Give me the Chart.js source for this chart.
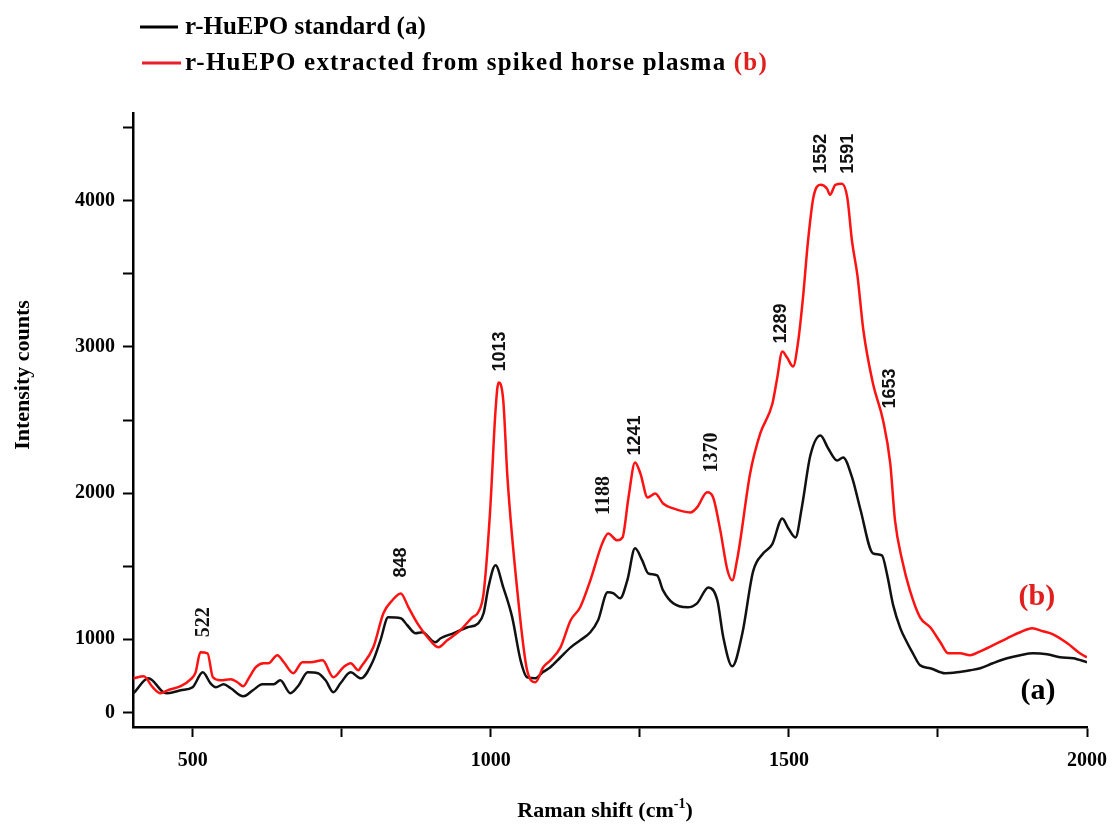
<!DOCTYPE html>
<html>
<head>
<meta charset="utf-8">
<script src="https://cdn.jsdelivr.net/npm/chart.js@4.4.0/dist/chart.umd.min.js"></script>
<style>
  html, body { margin: 0; padding: 0; background: #fff; }
  #wrap { width: 1120px; height: 827px; }
</style>
</head>
<body>
<div id="wrap"><canvas id="raman-chart" width="1120" height="827"></canvas></div>
<script>
// (a) r-HuEPO standard
var shiftA = [401,426,451,458,480,500,517,530,539,552,564,585,601,617,636,647,664,678,693,710,723,736,748,765,778,782,803,815,828,849,860,874,885,907,916,937,961,979,988,996,1008,1021,1036,1050,1061,1075,1087,1100,1117,1134,1150,1167,1180,1196,1206,1217,1229,1242,1254,1264,1279,1289,1306,1330,1346,1365,1380,1390,1405,1422,1440,1457,1472,1489,1499,1511,1522,1536,1553,1566,1581,1591,1606,1620,1641,1656,1665,1675,1687,1698,1708,1720,1737,1762,1782,1804,1821,1842,1866,1888,1910,1933,1955,1977,2000];
var intensityA = [631,733,638,631,651,672,774,699,672,692,665,610,651,692,692,720,631,686,774,768,720,638,699,774,740,733,856,993,1150,1144,1096,1041,1048,980,1007,1041,1082,1109,1178,1355,1506,1355,1150,856,740,733,774,809,877,945,993,1048,1130,1321,1314,1280,1403,1622,1540,1451,1437,1335,1246,1219,1246,1355,1267,1014,815,1041,1465,1588,1649,1827,1759,1697,1909,2257,2394,2305,2223,2244,2107,1888,1588,1574,1437,1232,1075,980,904,822,802,768,774,788,802,836,870,891,904,897,877,870,843];

// (b) r-HuEPO extracted from spiked horse plasma
var shiftB = [401,418,433,446,458,480,497,505,513,525,534,547,564,575,585,594,606,619,627,642,653,669,684,698,718,736,753,765,778,782,803,820,835,849,862,877,894,912,927,949,969,979,988,999,1008,1013,1021,1028,1045,1061,1075,1088,1100,1117,1134,1150,1167,1187,1197,1212,1221,1231,1242,1251,1263,1276,1289,1306,1335,1346,1363,1373,1385,1397,1405,1413,1418,1435,1452,1472,1480,1489,1497,1507,1516,1524,1532,1541,1553,1564,1569,1578,1589,1598,1606,1615,1625,1641,1658,1670,1678,1690,1703,1720,1737,1754,1767,1787,1804,1821,1842,1866,1888,1908,1926,1943,1967,1988,2000];
var intensityB = [733,747,672,631,651,679,727,774,911,904,740,720,727,706,679,733,809,836,836,891,843,768,843,843,856,740,809,836,788,809,945,1178,1267,1314,1219,1109,1014,945,993,1062,1150,1185,1314,1882,2565,2756,2633,2107,1314,788,706,809,856,945,1130,1219,1403,1656,1724,1677,1697,1970,2210,2134,1970,1998,1929,1895,1868,1902,2005,1970,1745,1472,1403,1540,1663,2134,2408,2606,2777,2968,2927,2866,3050,3351,3720,4021,4109,4082,4041,4109,4116,4021,3720,3488,3112,2750,2497,2203,1813,1540,1335,1150,1082,980,904,904,891,918,959,1007,1048,1075,1055,1034,973,904,877];

// axis ticks
var xTickValues = [500, 750, 1000, 1250, 1500, 1750, 2000];
var xTickLabels = ['500', '', '1000', '', '1500', '', '2000'];
var yTickValues = [500, 1000, 1500, 2000, 2500, 3000, 3500, 4000, 4500];
var yTickLabels = ['0', '1000', '', '2000', '', '3000', '', '4000', ''];

// peak labels
var peakText = ['522', '848', '1013', '1188', '1241', '1370', '1289', '1552', '1591', '1653'];

var SERIF = '"Liberation Serif", "Times New Roman", serif';
var SANS = '"Liberation Sans", Arial, sans-serif';

// where each peak label sits (data units) and which face it uses
var peakPlace = [
    { x: 518, y: 1116, serif: true },
    { x: 850, y: 1526, serif: false },
    { x: 1015, y: 2968, serif: false },
    { x: 1189, y: 1984, serif: true },
    { x: 1242, y: 2394, serif: false },
    { x: 1370, y: 2278, serif: true },
    { x: 1487, y: 3160, serif: false },
    { x: 1554, y: 4321, serif: false },
    { x: 1599, y: 4321, serif: false },
    { x: 1670, y: 2715, serif: false }
];

function toPoints(xs, ys) {
    var pts = [];
    for (var i = 0; i < xs.length; i++) {
        pts.push({ x: xs[i], y: ys[i] });
    }
    return pts;
}

function eachItem(arr, fn) {
    for (var i = 0; i < arr.length; i++) fn(i, arr[i]);
}

var ramanText = {
    id: 'ramanText',
    beforeDraw: function (chart) {
        var ctx = chart.ctx;
        ctx.save();
        ctx.fillStyle = '#fff';
        ctx.fillRect(0, 0, chart.width, chart.height);
        ctx.restore();
    },
    afterDraw: function (chart) {
        var ctx = chart.ctx;
        var sx = chart.scales.x;
        var sy = chart.scales.y;
        ctx.save();

        // peak labels, rotated
        ctx.fillStyle = '#111';
        ctx.textAlign = 'center';
        ctx.textBaseline = 'middle';
        eachItem(peakText, function (i, txt) {
            var p = peakPlace[i];
            ctx.save();
            ctx.translate(sx.getPixelForValue(p.x), sy.getPixelForValue(p.y));
            ctx.rotate(-Math.PI / 2);
            ctx.font = p.serif ? 'bold 20px ' + SERIF : 'bold 18px ' + SANS;
            ctx.fillText(txt, 0, 0);
            ctx.restore();
        });

        // curve tags
        ctx.font = 'bold 30px ' + SERIF;
        ctx.fillStyle = '#e0201f';
        ctx.fillText('(b)', sx.getPixelForValue(1916), sy.getPixelForValue(1287));
        ctx.fillStyle = '#000';
        ctx.fillText('(a)', sx.getPixelForValue(1918), sy.getPixelForValue(645));

        // legend
        ctx.textAlign = 'left';
        ctx.textBaseline = 'alphabetic';
        ctx.lineWidth = 3;
        ctx.strokeStyle = '#000';
        ctx.beginPath(); ctx.moveTo(140, 27); ctx.lineTo(178, 27); ctx.stroke();
        ctx.strokeStyle = '#e8202a';
        ctx.beginPath(); ctx.moveTo(142, 63); ctx.lineTo(181, 63); ctx.stroke();
        ctx.font = 'bold 25px ' + SERIF;
        ctx.fillStyle = '#000';
        ctx.fillText('r-HuEPO standard (a)', 185, 34);
        ctx.letterSpacing = '1.2px';
        var first = 'r-HuEPO extracted from spiked horse plasma ';
        ctx.fillText(first, 185, 70);
        ctx.fillStyle = '#e0201f';
        ctx.fillText('(b)', 185 + ctx.measureText(first).width, 70);
        ctx.letterSpacing = '0px';

        // y axis title
        ctx.fillStyle = '#000';
        ctx.font = 'bold 22px ' + SERIF;
        ctx.save();
        ctx.translate(23, 375);
        ctx.rotate(-Math.PI / 2);
        ctx.textAlign = 'center';
        ctx.textBaseline = 'middle';
        ctx.fillText('Intensity counts', 0, 0);
        ctx.restore();

        // x axis title with superscript
        var main = 'Raman shift (cm';
        ctx.font = 'bold 22px ' + SERIF;
        var w1 = ctx.measureText(main).width;
        var w3 = ctx.measureText(')').width;
        ctx.font = 'bold 14px ' + SERIF;
        var w2 = ctx.measureText('-1').width;
        var left = 605 - (w1 + w2 + w3) / 2;
        ctx.font = 'bold 22px ' + SERIF;
        ctx.fillText(main, left, 817);
        ctx.font = 'bold 14px ' + SERIF;
        ctx.fillText('-1', left + w1, 808);
        ctx.font = 'bold 22px ' + SERIF;
        ctx.fillText(')', left + w1 + w2, 817);

        ctx.restore();
    }
};

var tickFont = { family: SERIF, size: 20, weight: 'bold' };

var ctx = document.getElementById('raman-chart');
var RamanChart = new Chart(ctx, {
    type: 'line',
    data: {
        datasets: [{
            label: 'r-HuEPO extracted from spiked horse plasma (b)',
            data: toPoints(shiftB, intensityB),
            borderColor: '#ff1212',
            borderWidth: 2.5,
            pointRadius: 0,
            cubicInterpolationMode: 'monotone',
            fill: false
        }, {
            label: 'r-HuEPO standard (a)',
            data: toPoints(shiftA, intensityA),
            borderColor: '#111',
            borderWidth: 2.5,
            pointRadius: 0,
            cubicInterpolationMode: 'monotone',
            fill: false
        }]
    },
    plugins: [ramanText],
    options: {
        responsive: false,
        animation: false,
        layout: { padding: { top: 113, right: 33, left: 0, bottom: 0 } },
        plugins: {
            legend: { display: false },
            tooltip: { enabled: false }
        },
        scales: {
            x: {
                type: 'linear',
                min: 400,
                max: 2000,
                afterFit: function (s) { s.height = 100; },
                afterBuildTicks: function (s) {
                    s.ticks = xTickValues.map(function (v) { return { value: v }; });
                },
                border: { display: true, color: '#000', width: 2.5 },
                grid: { drawOnChartArea: false, drawTicks: true, tickLength: 10, tickColor: '#000', tickWidth: 2 },
                ticks: {
                    color: '#000',
                    font: tickFont,
                    padding: 12,
                    maxRotation: 0,
                    autoSkip: false,
                    callback: function (v) {
                        var i = xTickValues.indexOf(v);
                        return i >= 0 ? xTickLabels[i] : '';
                    }
                }
            },
            y: {
                type: 'linear',
                min: 400,
                max: 4600,
                afterFit: function (s) { s.width = 133; },
                afterBuildTicks: function (s) {
                    s.ticks = yTickValues.map(function (v) { return { value: v }; });
                },
                border: { display: true, color: '#000', width: 2.5 },
                grid: { drawOnChartArea: false, drawTicks: true, tickLength: 10, tickColor: '#000', tickWidth: 2 },
                ticks: {
                    color: '#000',
                    font: tickFont,
                    padding: 8,
                    autoSkip: false,
                    callback: function (v) {
                        var i = yTickValues.indexOf(v);
                        return i >= 0 ? yTickLabels[i] : '';
                    }
                }
            }
        }
    }
});
</script>
</body>
</html>
